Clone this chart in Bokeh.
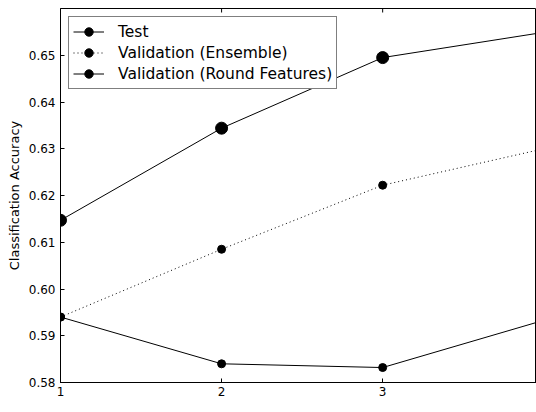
import math
from bokeh.plotting import figure
from bokeh.models import Range1d, FixedTicker, Legend, LegendItem, PrintfTickFormatter, Label
from bokeh.embed import file_html
from bokeh.resources import INLINE

rounds = [1, 2, 3, 4]
test_acc = [0.6147, 0.6344, 0.6495, 0.6549]
val_ensemble = [0.5940, 0.6085, 0.6222, 0.6300]
val_round = [0.5940, 0.5840, 0.5832, 0.5933]

x_ticks = [1, 2, 3]
y_ticks = [0.58, 0.59, 0.60, 0.61, 0.62, 0.63, 0.64, 0.65]

FONT = "DejaVu Sans"
X_START, X_END = 1, 3.955
Y_START, Y_END = 0.58, 0.6600

p = figure(width=536, height=412, output_backend="svg", toolbar_location=None,
           x_range=Range1d(X_START, X_END), y_range=Range1d(Y_START, Y_END),
           min_border_left=60, min_border_right=0, min_border_top=8, min_border_bottom=30)

p.grid.visible = False
p.outline_line_color = "black"
p.outline_line_width = 1
p.background_fill_color = "white"
p.border_fill_color = "white"

r_test_l = p.line(rounds, test_acc, line_color="black", line_width=1)
r_test_m = p.scatter(rounds, test_acc, size=12, fill_color="black", line_color="black")
r_ens_l = p.line(rounds, val_ensemble, line_color="black", line_width=1, line_dash="1 3")
r_ens_m = p.scatter(rounds, val_ensemble, size=8, fill_color="black", line_color="black")
r_rnd_l = p.line(rounds, val_round, line_color="black", line_width=1)
r_rnd_m = p.scatter(rounds, val_round, size=8, fill_color="black", line_color="black")

# inward ticks on the top spine
p.ray(x=x_ticks, y=[Y_END] * len(x_ticks), length=4, length_units="screen",
      angle=-math.pi / 2, line_color="black", line_width=1)

for ax in (p.xaxis[0], p.yaxis[0]):
    ax.major_tick_in = 4
    ax.major_tick_out = 0
    ax.minor_tick_line_color = None
    ax.axis_line_color = "black"
    ax.major_tick_line_color = "black"
    ax.major_label_text_font = FONT
    ax.major_label_text_font_size = "12px"
    ax.major_label_text_color = "black"
    ax.axis_label_text_font = FONT
    ax.axis_label_text_font_size = "13px"
    ax.axis_label_text_font_style = "normal"
    ax.axis_label_text_color = "black"

p.xaxis[0].ticker = FixedTicker(ticks=x_ticks)
p.yaxis[0].ticker = FixedTicker(ticks=y_ticks)
p.yaxis[0].formatter = PrintfTickFormatter(format="%.2f")
p.yaxis[0].axis_label = "Classification Accuracy"
p.xaxis[0].major_label_standoff = 4
p.yaxis[0].major_label_standoff = 5
p.yaxis[0].axis_label_standoff = 4

xlabel = Label(x=241.5, y=-14, x_units="screen", y_units="screen", text="HyperBoost Round",
               text_align="center", text_baseline="top", text_font=FONT,
               text_font_size="13px", text_color="black")
p.add_layout(xlabel)

legend = Legend(items=[
    LegendItem(label="Test", renderers=[r_test_l, r_test_m]),
    LegendItem(label="Validation (Ensemble)", renderers=[r_ens_l, r_ens_m]),
    LegendItem(label="Validation (Round Features)", renderers=[r_rnd_l, r_rnd_m]),
], location="top_left")
legend.margin = 8
legend.padding = 4
legend.spacing = 0
legend.glyph_width = 31
legend.glyph_height = 21
legend.label_height = 21
legend.label_standoff = 14
legend.label_text_font = FONT
legend.label_text_font_size = "15.5px"
legend.label_text_color = "black"
legend.border_line_color = "black"
legend.border_line_width = 1
legend.background_fill_color = "white"
legend.background_fill_alpha = 1
p.add_layout(legend, "center")

open("out.html", "w").write(file_html(p, INLINE))
